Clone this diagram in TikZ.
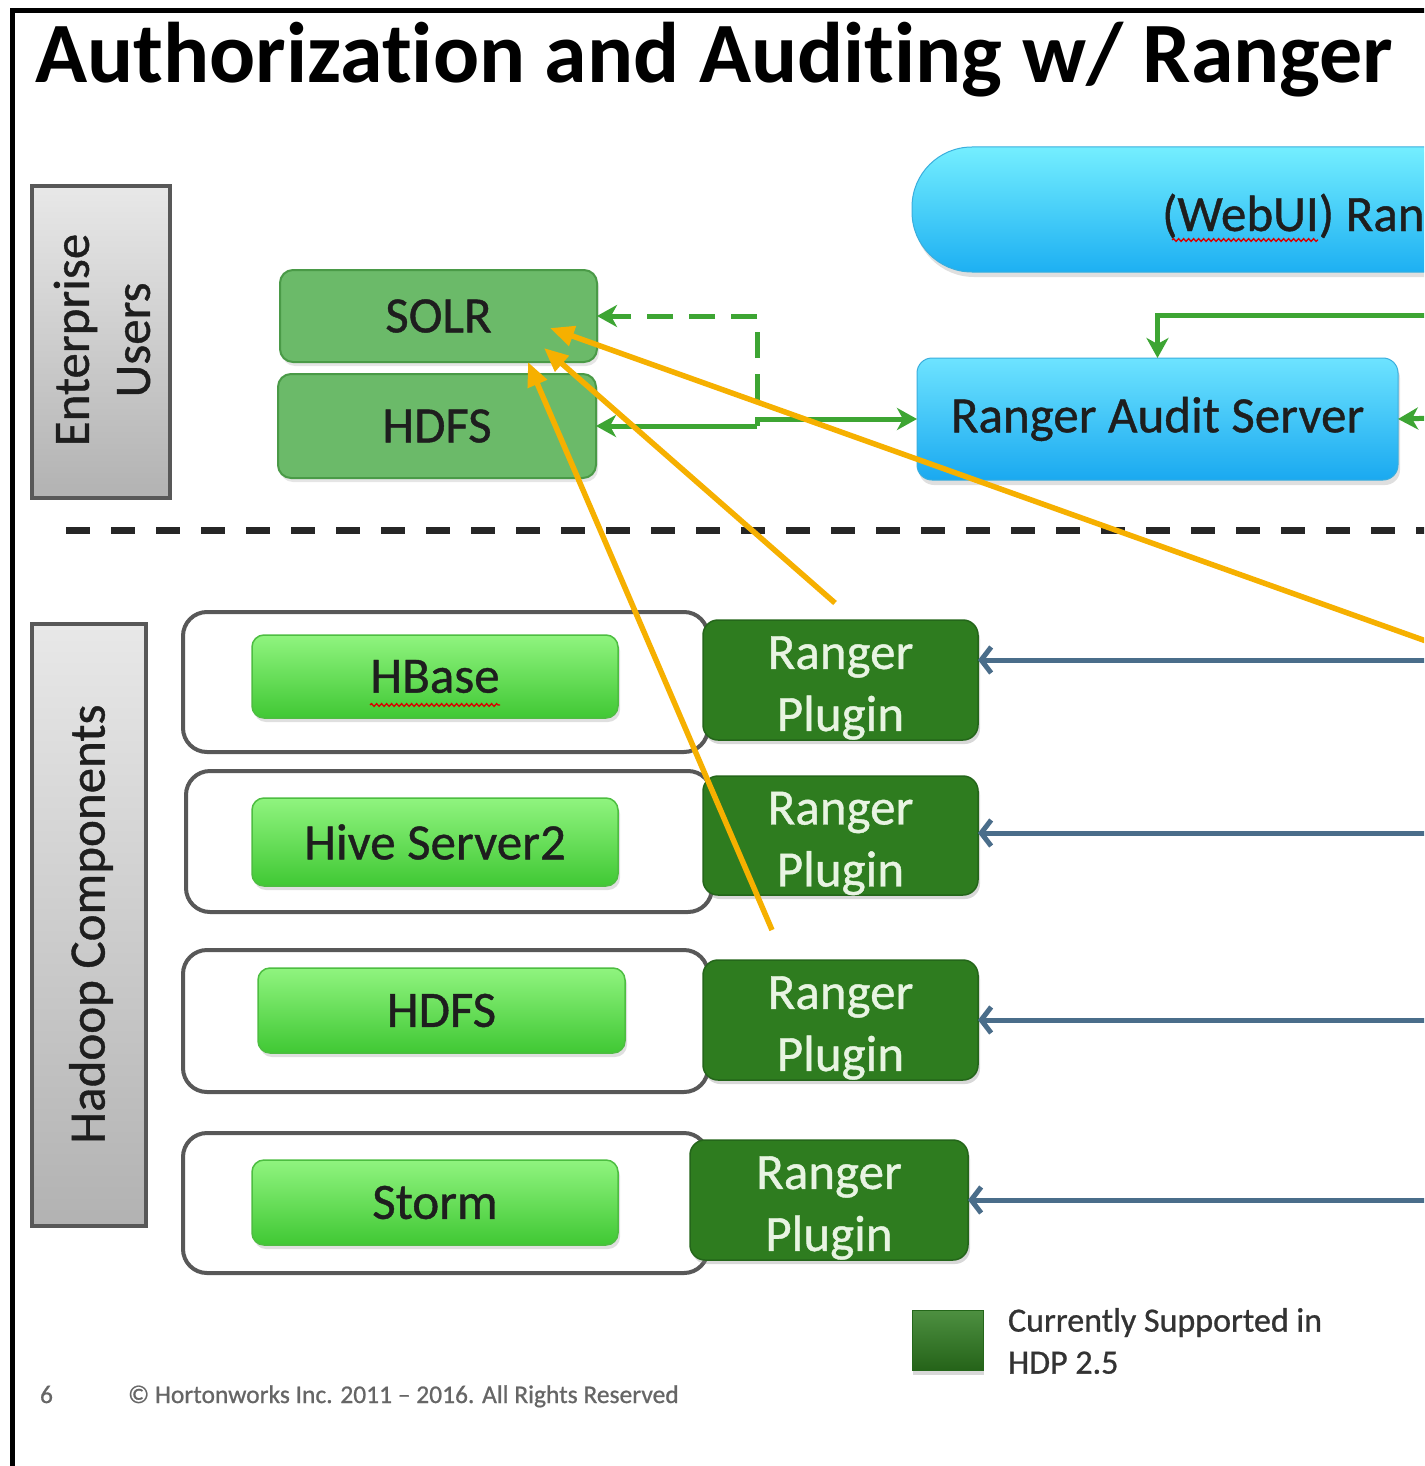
\documentclass[tikz,border=0pt]{standalone}
\usepackage{fontspec}
\setmainfont{Carlito}[Ligatures=NoCommon]
\newfontfamily\heavyfont{Carlito}[FakeBold=0.8, Ligatures=NoCommon]
\usetikzlibrary{arrows.meta,shadows,decorations.pathmorphing}
\definecolor{solrgreen}{HTML}{6BBA69}
\definecolor{solredge}{HTML}{4A9A47}
\definecolor{brightTop}{HTML}{90F47F}
\definecolor{brightBot}{HTML}{40C834}
\definecolor{brightEdge}{HTML}{4DBE41}
\definecolor{plugFill}{HTML}{2E7C1F}
\definecolor{plugEdge}{HTML}{24661A}
\definecolor{plugText}{HTML}{E8F4E2}
\definecolor{cyanTop}{HTML}{74EEFF}
\definecolor{cyanBot}{HTML}{1DB0F2}
\definecolor{auditTop}{HTML}{6DE3FF}
\definecolor{auditBot}{HTML}{1AA9F0}
\definecolor{cyanEdge}{HTML}{3AAEDD}
\definecolor{lineGreen}{HTML}{3DA533}
\definecolor{arrowBlue}{HTML}{4A6D8A}
\definecolor{orangeLine}{HTML}{F6B000}
\definecolor{grayTop}{HTML}{E8E8E8}
\definecolor{grayBot}{HTML}{B2B2B2}
\definecolor{grayEdge}{HTML}{585858}
\definecolor{txtDark}{HTML}{1E1E1E}
\newcommand\myLbl{\heavyfont\fontsize{51}{61}\selectfont}
\begin{document}
\begin{tikzpicture}[x=1pt,y=-1pt,
  every node/.style={inner sep=0pt, outer sep=0pt},
  sidebox/.style={draw=grayEdge, line width=4pt, top color=grayTop, bottom color=grayBot},
  sidetext/.style={rotate=90, align=center, text=txtDark, font=\myLbl},
  topbox/.style={draw=solredge, line width=2pt, fill=solrgreen, rounded corners=13pt, text=txtDark, font=\myLbl,
     drop shadow={opacity=0.2, shadow xshift=2pt, shadow yshift=-4pt}},
  contbox/.style={draw=grayEdge, line width=4pt, fill=white, rounded corners=24pt},
  compbox/.style={draw=brightEdge, line width=1.5pt, top color=brightTop, bottom color=brightBot, rounded corners=12pt, text=txtDark, font=\myLbl,
     drop shadow={opacity=0.25, shadow xshift=2pt, shadow yshift=-4pt}},
  plugbox/.style={draw=plugEdge, line width=1.5pt, fill=plugFill, rounded corners=15pt,
     drop shadow={opacity=0.3, shadow xshift=2pt, shadow yshift=-4pt}},
  plugtext/.style={text=plugText, align=center, font=\heavyfont\fontsize{51}{62}\selectfont, yshift=-8pt},
  garrow/.style={draw=lineGreen, line width=5pt, -{Stealth[length=20pt,width=22pt,inset=6pt]}},
  barrow/.style={draw=arrowBlue, line width=5pt, -{Straight Barb[length=10pt,width=26pt]}},
  oarrow/.style={draw=orangeLine, line width=5.5pt, -{Triangle[length=24pt,width=20pt]}},
  squiggle/.style={draw=red!85!black, line width=1.3pt, decorate, decoration={snake, segment length=5pt, amplitude=1.4pt}}
]
\useasboundingbox (0,0) rectangle (1424,1466);
\clip (0,0) rectangle (1424,1466);
\fill[white] (0,0) rectangle (1424,1466);

% frame
\draw[line width=5pt, black] (12,1480) -- (12,11) -- (1440,11);

% title
\node[anchor=base west, font=\bfseries\fontsize{86}{90}\selectfont, text=black] (title) at (35,83) {Authorization and Auditing w/ Ranger};

% side boxes
\node[sidebox, minimum width=138pt, minimum height=312pt] (eu) at (101,342) {};
\node[sidetext] (eutext) at (102,340) {Enterprise\\Users};
\node[sidebox, minimum width=114pt, minimum height=602pt] (hc) at (89,925) {};
\node[sidetext] (hctext) at (91,924) {Hadoop Components};

% top storage boxes
\node[topbox, minimum width=317pt, minimum height=92pt] (solr) at (438.5,316) {SOLR};
\node[topbox, minimum width=318pt, minimum height=104pt] (hdfsA) at (437,426) {HDFS};

% WebUI and audit server
\node[top color=cyanTop, bottom color=cyanBot, draw=cyanEdge, line width=1pt, rounded corners=60pt,
      minimum width=700pt, minimum height=125pt,
      drop shadow={opacity=0.25, shadow xshift=2pt, shadow yshift=-5pt}] (webui) at (1262,209.5) {};
\node[anchor=base west, font=\myLbl, text=txtDark] (webuitext) at (1162,231) {(WebUI) Ran};
\draw[squiggle] (1172,240) -- (1318,240);
\node[top color=auditTop, bottom color=auditBot, draw=cyanEdge, line width=1pt, rounded corners=15pt,
      minimum width=481pt, minimum height=122pt, text=txtDark, font=\myLbl,
      drop shadow={opacity=0.25, shadow xshift=2pt, shadow yshift=-5pt}] (audit) at (1157.5,419) {Ranger Audit Server};

% green connectors
\coordinate (gA) at (1440,315);
\coordinate (gB) at (1440,418);
\coordinate (jn) at (757,426);
\coordinate (jd) at (757,400);
\draw[garrow] (gA) -| (audit.north);
\draw[garrow] (gB) -- (audit.east);
\draw[garrow] (jn) -- (hdfsA.east);
\draw[garrow] (jn) |- (audit.west);
\draw[garrow, dash pattern=on 26pt off 16pt] (jd) |- (solr.east);

% separator
\draw[line width=7pt, black!85, dash pattern=on 24pt off 21pt] (66,530) -- (1440,530);

% containers
\node[contbox, minimum width=525pt, minimum height=140pt] (c1) at (445.5,682) {};
\node[contbox, minimum width=526pt, minimum height=141pt] (c2) at (449,841.5) {};
\node[contbox, minimum width=525pt, minimum height=142pt] (c3) at (445.5,1021) {};
\node[contbox, minimum width=525pt, minimum height=140pt] (c4) at (445.5,1203) {};

% components
\node[compbox, minimum width=366pt, minimum height=83pt] (hbase) at (435,676.5) {HBase};
\draw[squiggle] (370,705) -- (500,705);
\node[compbox, minimum width=366pt, minimum height=88pt] (hive) at (435,842) {Hive Server2};
\node[compbox, minimum width=367pt, minimum height=85pt] (hdfsB) at (441.5,1010.5) {HDFS};
\node[compbox, minimum width=366pt, minimum height=85pt] (storm) at (435,1202.5) {Storm};

% plugins
\node[plugbox, minimum width=275pt, minimum height=120pt, label={[plugtext]center:Ranger\\Plugin}] (p1) at (840.5,680) {};
\node[plugbox, minimum width=275pt, minimum height=119pt, label={[plugtext]center:Ranger\\Plugin}] (p2) at (840.5,835.5) {};
\node[plugbox, minimum width=275pt, minimum height=120pt, label={[plugtext]center:Ranger\\Plugin}] (p3) at (840.5,1020) {};
\node[plugbox, minimum width=278pt, minimum height=120pt, label={[plugtext]center:Ranger\\Plugin}] (p4) at (829,1200) {};

% blue connectors
\coordinate (b1) at (1440,660);
\coordinate (b2) at (1440,833);
\coordinate (b3) at (1440,1020);
\coordinate (b4) at (1440,1200);
\draw[barrow] (b1) -- (p1.east |- b1);
\draw[barrow] (b2) -- (p2.east |- b2);
\draw[barrow] (b3) -- (p3.east |- b3);
\draw[barrow] (b4) -- (p4.east |- b4);

% orange connectors
\coordinate (o1) at (1440,646);
\coordinate (o2) at (835,603);
\coordinate (o3) at (772,930);
\coordinate (t1) at (550,328);
\coordinate (t2) at (544,348);
\coordinate (t3) at (528,362);
\draw[oarrow] (o1) -- (t1);
\draw[oarrow] (o2) -- (t2);
\draw[oarrow] (o3) -- (t3);

% legend
\node[minimum width=71pt, minimum height=60pt, top color=plugFill!85!white, bottom color=plugFill!80!black,
      draw=plugEdge, line width=1pt, drop shadow={opacity=0.3, shadow xshift=1pt, shadow yshift=-5pt}] (legbox) at (947.5,1340) {};
\node[anchor=north west, align=left, text=black!80, font=\heavyfont\fontsize{34}{42}\selectfont] (legtext) at (1008,1308) {Currently Supported in\\HDP 2.5};

% footer
\node[anchor=base west, text=black!60, font=\heavyfont\fontsize{25.5}{28}\selectfont] (pagenum) at (40,1403) {6};
\node[anchor=base west, text=black!60, font=\heavyfont\fontsize{25.5}{28}\selectfont] (copyright) at (128,1403) {© Hortonworks Inc. 2011 – 2016. All Rights Reserved};
\end{tikzpicture}
\end{document}
